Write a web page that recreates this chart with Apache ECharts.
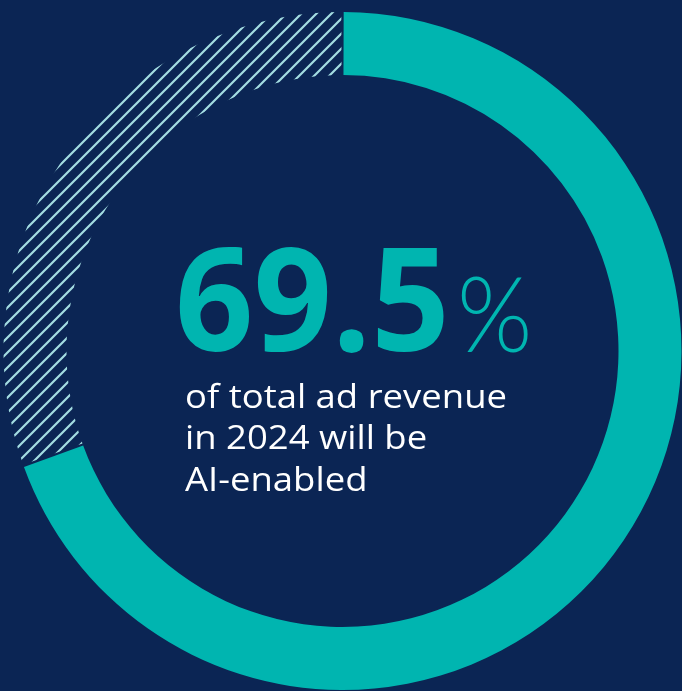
<!DOCTYPE html>
<html>
<head>
<meta charset="utf-8">
<title>AI-enabled ad revenue share, 2024</title>
<script src="https://cdn.jsdelivr.net/npm/echarts@6/dist/echarts.min.js"></script>
<style>
  html, body { margin: 0; padding: 0; background: #0b2554; }
  #chart { width: 682px; height: 691px; }
</style>
</head>
<body>
<div id="chart"></div>
<script>
// Share of total ad revenue in 2024, percent
const shareNames = ['AI-enabled', 'Other'];
const shareValues = [69.5, 30.5];
const captionLines = ['of total ad revenue', 'in 2024 will be', 'AI-enabled'];

const NAVY = '#0b2554';
const TEAL = '#00b5b0';
const HATCH = '#a3dde2';

// Diagonal hatch tile for the remaining share
function hatchTile(size, width) {
  const c = document.createElement('canvas');
  c.width = size; c.height = size;
  const g = c.getContext('2d');
  g.fillStyle = NAVY;
  g.fillRect(0, 0, size, size);
  g.strokeStyle = HATCH;
  g.lineWidth = width;
  g.beginPath();
  g.moveTo(-2, size + 2); g.lineTo(size + 2, -2);
  g.moveTo(-2, 2); g.lineTo(2, -2);
  g.moveTo(size - 2, size + 2); g.lineTo(size + 2, size - 2);
  g.stroke();
  return c;
}

const chart = echarts.init(document.getElementById('chart'), null, { renderer: 'canvas' });

const ringColors = [TEAL, { image: hatchTile(15, 2.2), repeat: 'repeat' }];

chart.setOption({
  backgroundColor: NAVY,
  animation: false,
  series: [{
    type: 'pie',
    center: [342.5, 351],
    radius: [276, 339],
    startAngle: 90,
    clockwise: true,
    padAngle: 0.4,
    silent: true,
    label: { show: false },
    labelLine: { show: false },
    itemStyle: { borderWidth: 0 },
    data: shareValues.map((v, i) => ({
      name: shareNames[i],
      value: v,
      itemStyle: { color: ringColors[i] }
    }))
  }],
  graphic: [
    {
      type: 'text',
      left: 175,
      top: 239,
      scaleX: 0.96,
      style: {
        text: String(shareValues[0]),
        fill: TEAL,
        font: '700 143px "Open Sans", sans-serif'
      }
    },
    {
      type: 'text',
      left: 457,
      top: 266,
      scaleX: 0.93,
      style: {
        text: '%',
        fill: TEAL,
        font: '300 104px Lato, "Noto Sans", sans-serif'
      }
    },
    {
      type: 'text',
      left: 185,
      top: 378,
      scaleX: 1.14,
      style: {
        text: captionLines.join('\n'),
        fill: '#ffffff',
        lineHeight: 41.5,
        font: '500 32px "Open Sans", sans-serif'
      }
    }
  ]
});
</script>
</body>
</html>
